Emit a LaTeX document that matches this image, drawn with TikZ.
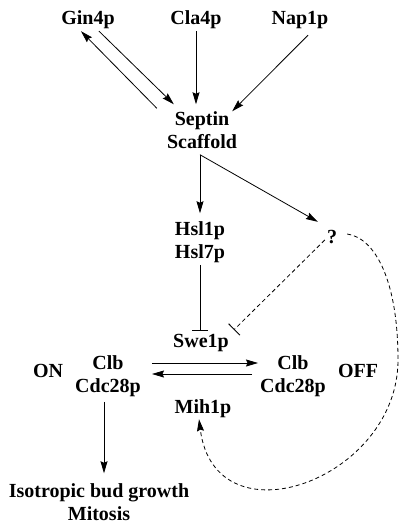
\documentclass[tikz,border=0pt]{standalone}
\usepackage{fontspec}
\setmainfont{Liberation Serif}
\usetikzlibrary{positioning, calc, arrows.meta}

\begin{document}
\begin{tikzpicture}[x=1pt, y=1pt,
		lbl/.style={font=\bfseries\fontsize{20}{24}\selectfont, inner sep=2pt, text height=14pt, text depth=4pt},
		lbltwo/.style={font=\bfseries\fontsize{20}{23}\selectfont, inner sep=2pt, align=center},
		arr/.style={line width=0.8pt, -{Stealth[length=12pt, width=7pt, inset=1.5pt]}},
		inh/.style={line width=0.8pt, -{Bar[width=16pt, line width=0.9pt]}},
		dsh/.style={dash pattern=on 4pt off 3pt}]
		\useasboundingbox (0, 0) rectangle (400, -527);
		\node[lbl] (gin) at (88, -20) {Gin4p};
		\node[lbl] (cla) at (196, -20) {Cla4p};
		\node[lbl] (nap) at (300, -20) {Nap1p};
		\node[lbltwo] (sept) at (202, -130) {Septin\\Scaffold};
		\node[lbltwo] (hsl) at (200, -242) {Hsl1p\\Hsl7p};
		\node[lbl] (q) at (332, -238) {?};
		\node[lbl] (swe) at (201, -342) {Swe1p};
		\node[lbltwo] (clbon) at (108, -376) {Clb\\Cdc28p};
		\node[lbl] (onlbl) at (48, -372) {ON};
		\node[lbltwo] (clboff) at (293, -376) {Clb\\Cdc28p};
		\node[lbl] (offlbl) at (358, -372) {OFF};
		\node[lbl] (mih) at (203, -408) {Mih1p};
		\node[lbltwo] (iso) at (99, -502) {Isotropic bud growth\\Mitosis};
		
		\draw[arr] ($(sept.north west) + (-8, 1)$) -- ($(gin.south) + (-7, 0)$);
		\draw[arr] ($(gin.south) + (11, 0)$) -- ($(sept.north west) + (9, 5)$);
		\draw[arr] (cla.south) -- ($(cla.south |- sept.north) + (0, 5)$);
		\draw[arr] ($(nap.south) + (8, -4)$) -- ($(sept.north east) + (-7, -2)$);
		
		\coordinate (fork) at ($(hsl.north |- sept.south) + (0, -4)$);
		\draw[arr] (fork) -- ($(hsl.north) + (0, 6)$);
		\draw[arr] (fork) -- ($(q.north west) + (-7, 5)$);
		\draw[inh] (hsl.south) -- (hsl.south |- swe.north);
		\draw[inh, dsh] ($(q.west) + (0, -2)$) -- ($(swe.north east) + (3, 1)$);
		
		\draw[arr] ($(clbon.east) + (9, 13)$) -- ($(clboff.west) + (0, 13)$);
		\draw[arr] ($(clboff.west) + (-6, 2)$) -- ($(clbon.east) + (9, 2)$);
		\draw[arr] ($(clbon.south) + (-4, -3)$) -- ($(clbon.south |- iso.north) + (-4, 8)$);
		
		\coordinate (loop) at (398, -360);
		\draw[arr, dsh] ($(q.east) + (8, 4)$) .. controls (375, -238) and (398, -280) .. (loop) .. controls (398, -480) and (215, -545) .. ($(mih.south) + (-4, 0)$);
	\end{tikzpicture}
\end{document}
